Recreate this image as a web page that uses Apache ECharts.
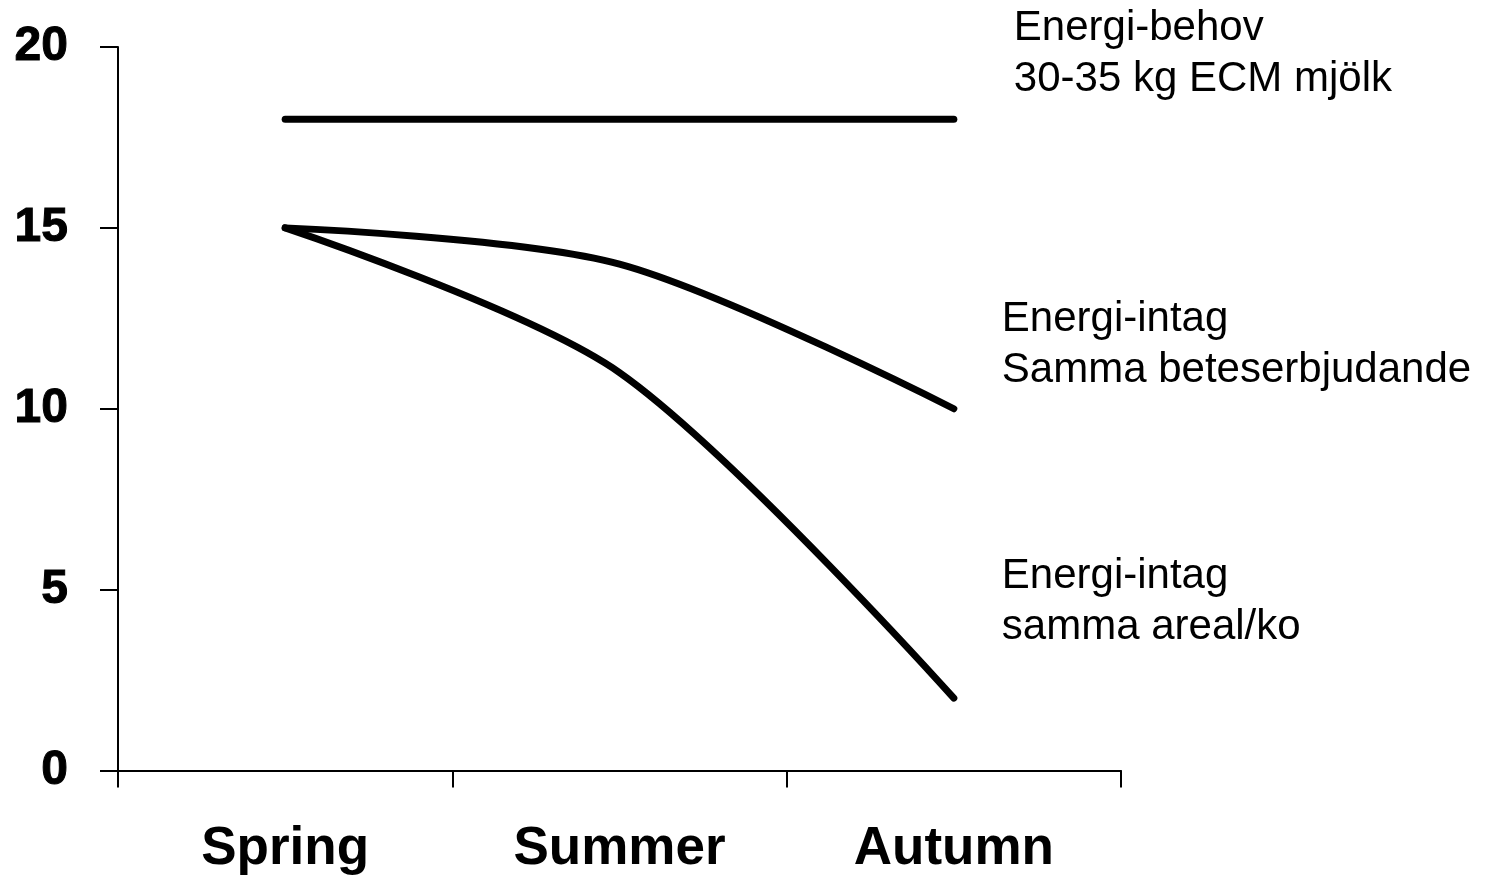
<!DOCTYPE html>
<html>
<head>
<meta charset="utf-8">
<script src="https://cdn.jsdelivr.net/npm/echarts@6/dist/echarts.min.js"></script>
<style>
html,body{margin:0;padding:0;background:#fff;}
#chart{width:1493px;height:876px;}
</style>
</head>
<body>
<div id="chart"></div>
<script>
const categories = ['Spring', 'Summer', 'Autumn'];
const yTicks = [0, 5, 10, 15, 20];
const energiBehov = [18, 18, 18];
const intagSammaBete = [15, 14, 10];
const intagSammaAreal = [15, 11, 2];
const labelBehov = 'Energi-behov\n30-35 kg ECM mjölk';
const labelSammaBete = 'Energi-intag\nSamma beteserbjudande';
const labelSammaAreal = 'Energi-intag\nsamma areal/ko';

const chart = echarts.init(document.getElementById('chart'), null, {renderer: 'canvas'});

function lineSeries(name, values, text, offset, smooth) {
  return {
    name: name,
    type: 'line',
    data: values,
    smooth: smooth,
    showSymbol: false,
    symbol: 'none',
    lineStyle: {color: '#000', width: 7, cap: 'round', join: 'round'},
    endLabel: {
      show: true,
      formatter: text,
      distance: 0,
      offset: offset,
      align: 'left',
      verticalAlign: 'middle',
      color: '#000',
      fontFamily: 'Liberation Sans',
      fontSize: 42,
      lineHeight: 51
    },
    emphasis: {disabled: true}
  };
}

chart.setOption({
  animation: false,
  backgroundColor: '#fff',
  grid: {left: 118, right: 372, top: 47, bottom: 105.5, containLabel: false},
  xAxis: {
    type: 'category',
    data: categories,
    boundaryGap: true,
    axisLine: {lineStyle: {color: '#000', width: 2}},
    axisTick: {show: true, length: 17, lineStyle: {color: '#000', width: 2}},
    axisLabel: {
      color: '#000', fontFamily: 'Liberation Sans', fontWeight: 'bold',
      fontSize: 53, margin: 52
    },
    splitLine: {show: false}
  },
  yAxis: {
    type: 'value',
    min: yTicks[0],
    max: yTicks[yTicks.length - 1],
    interval: 5,
    axisLine: {show: true, lineStyle: {color: '#000', width: 2}},
    axisTick: {show: true, length: 18, lineStyle: {color: '#000', width: 2}},
    axisLabel: {
      color: '#000', fontFamily: 'Liberation Sans', fontWeight: 'bold',
      fontSize: 48, margin: 50,
      textBorderColor: '#000', textBorderWidth: 1
    },
    splitLine: {show: false}
  },
  series: [
    lineSeries('Energi-behov', energiBehov, labelBehov, [60, -65], false),
    lineSeries('Samma beteserbjudande', intagSammaBete, labelSammaBete, [48, -64], 0.3),
    lineSeries('Samma areal/ko', intagSammaAreal, labelSammaAreal, [48, -96], 0.3)
  ]
});
</script>
</body>
</html>
